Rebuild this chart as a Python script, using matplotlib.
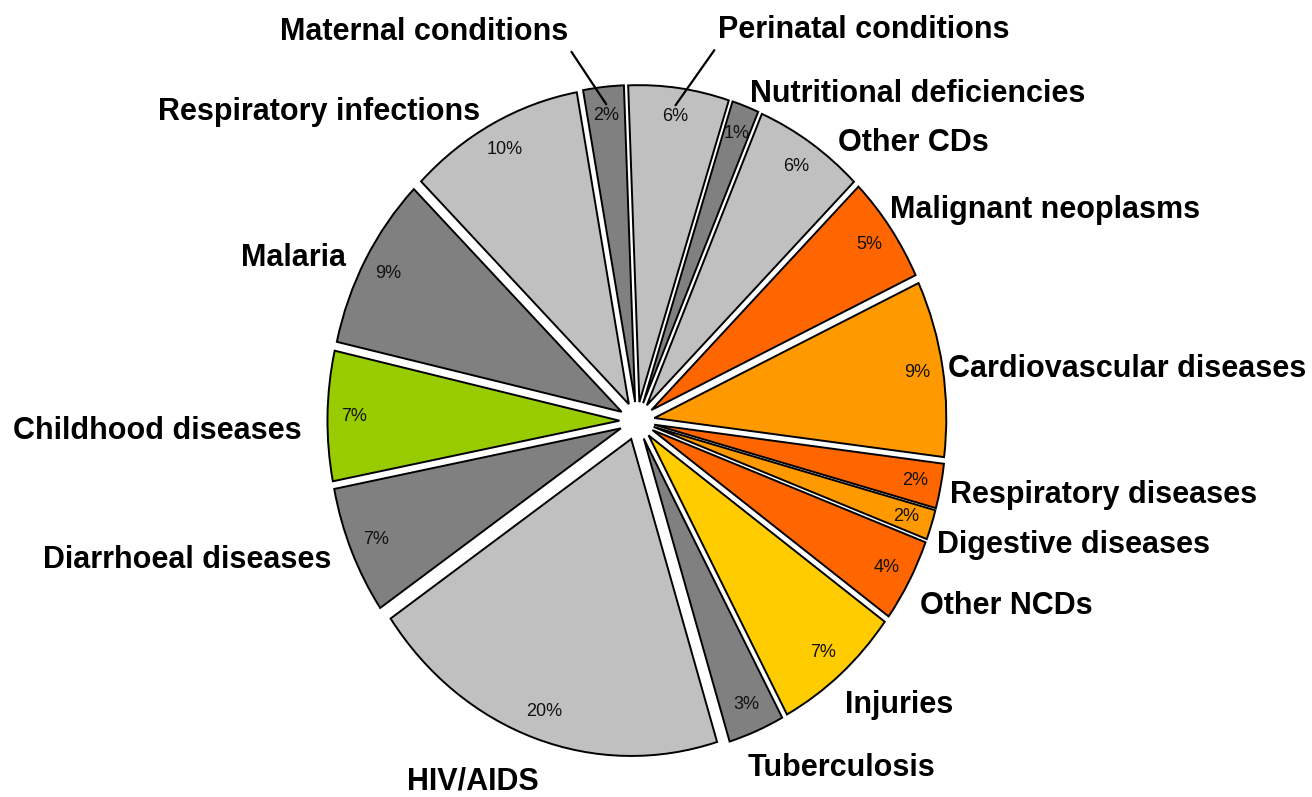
import matplotlib
matplotlib.use("Agg")
import matplotlib.pyplot as plt

# data (share of burden, %), clockwise from the top
causes = ["Perinatal conditions", "Nutritional deficiencies", "Other CDs",
          "Malignant neoplasms", "Cardiovascular diseases", "Respiratory diseases",
          "Digestive diseases", "Other NCDs", "Injuries", "Tuberculosis",
          "HIV/AIDS", "Diarrhoeal diseases", "Childhood diseases", "Malaria",
          "Respiratory infections", "Maternal conditions"]
shares = [5.56, 1.49, 6.10, 5.45, 8.96, 2.27, 1.52, 4.24, 7.13, 3.11,
          20.15, 6.52, 6.60, 8.85, 9.74, 2.24]

LG, DG = "#C0C0C0", "#808080"
colors = [LG, DG, LG, "#FF6600", "#FF9900", "#FF6600", "#FF9900", "#FF6600",
          "#FFCC00", DG, LG, DG, "#99CC00", DG, LG, DG]

# label placement (data units, pie radius = 1) and alignment
label_xy = [(0.277, 1.233), (0.387, 1.030), (0.688, 0.878), (0.866, 0.667),
            (1.065, 0.165), (1.072, -0.235), (1.027, -0.390), (0.969, -0.585),
            (0.712, -0.895), (0.380, -1.096), (-0.562, -1.137), (-1.045, -0.437),
            (-1.147, -0.033), (-0.997, 0.515), (-0.538, 0.976), (-0.236, 1.228)]
label_ha = ["left"] * 10 + ["center"] + ["right"] * 5
# labels tied to their slice with a leader line: name -> corner of text box
leader = {"Perinatal conditions": (0, 0), "Maternal conditions": (1, 0)}

plt.rcParams['font.family'] = ['Liberation Sans', 'DejaVu Sans']

fig = plt.figure(figsize=(13.12, 7.97), dpi=100)
ax = fig.add_axes([0, 0, 1, 1])

wedges, texts, autotexts = ax.pie(
    shares, colors=colors, explode=[0.06] * len(shares), startangle=92.2,
    counterclock=False, autopct='%.0f%%', pctdistance=0.91,
    wedgeprops=dict(edgecolor='black', linewidth=1.4),
    textprops=dict(fontsize=13, color='#111111'))

# the original pie is a little taller than wide
sx, sy = 292.0, 317.0
cx, cy = 637.0, 421.0
ax.set_xlim(-cx / sx, (1312 - cx) / sx)
ax.set_ylim(-(797 - cy) / sy, cy / sy)
ax.set_aspect('auto')
ax.axis('off')

for i, name in enumerate(causes):
    if name in leader:
        px, py = autotexts[i].get_position()
        ax.annotate(name, xy=(px, py + 0.035), xytext=label_xy[i],
                    ha=label_ha[i], va='center', fontsize=22, fontweight='bold',
                    arrowprops=dict(arrowstyle='-', color='black', lw=1.6,
                                    relpos=leader[name], shrinkA=2, shrinkB=0))
    else:
        ax.text(label_xy[i][0], label_xy[i][1], name, ha=label_ha[i],
                va='center', fontsize=22, fontweight='bold')

fig.savefig("out.png", dpi=100)
